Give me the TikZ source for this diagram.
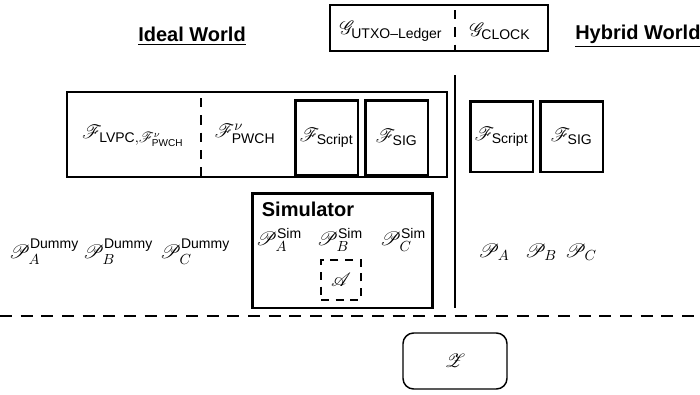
\documentclass[tikz,border=0pt]{standalone}
\usepackage{amsmath}
\usepackage{mathrsfs}
\usepackage{fontspec}
\setsansfont{Liberation Sans}
\usepackage{tikz}
\usetikzlibrary{positioning}

\newcommand{\sF}{\mathscr{F}}
\newcommand{\sP}{\mathscr{P}}

\begin{document}
\begin{tikzpicture}[x=0.75pt, y=-0.75pt,
every node/.style={font=\fontsize{15}{18}\selectfont, inner sep=0pt},
heading/.style={font=\fontsize{15}{18}\selectfont\sffamily\bfseries},
outerbox/.style={draw, line width=2pt},
funcbox/.style={draw, line width=2pt, minimum width=47pt, minimum height=56pt},
divider/.style={dash pattern=on 7pt off 6pt, line width=1.1pt}]
\useasboundingbox (0,0) rectangle (700,394);

% headings and shared functionalities
\node[heading] (ideal) at (192,36) {\underline{Ideal World}};
\node[heading, anchor=west] (hybrid) at (575,36) {\underline{Hybrid World}};
\node[draw, line width=1.6pt, minimum width=163.5pt, minimum height=34.5pt] (gbox) at (439,28) {};
\node (gutxo) at (391,31) {$\mathscr{G}_{\textsf{UTXO--Ledger}}$};
\node (gclock) at (500,31) {$\mathscr{G}_{\textsf{CLOCK}}$};
\draw[divider] (455,10) -- (455,50);

% ideal world
\node[outerbox, minimum width=285pt, minimum height=63.75pt] (idealf) at (257,134.5) {};
\node (flvpc) at (133,136) {$\sF_{\textsf{LVPC},\sF^{\nu}_{\textsf{PWCH}}}$};
\node (fpwch) at (245,134) {$\sF^{\nu}_{\textsf{PWCH}}$};
\draw[divider] (201,98) -- (201,176);
\node[funcbox] (iscript) at (326.5,137.5) {$\sF_{\textsf{Script}}$};
\node[funcbox] (isig) at (396.5,137.5) {$\sF_{\textsf{SIG}}$};
\foreach \p/\x in {A/44, B/118, C/195}{
\node (dummy\p) at (\x,252) {$\sP^{\textsf{Dummy}}_{\p}$};}

% simulator
\node[outerbox, minimum width=135pt, minimum height=86pt] (sim) at (342.5,250.5) {};
\node[heading] (simtitle) at (308,209) {Simulator};
\foreach \p/\x in {A/279, B/340, C/403}{
\node (sim\p) at (\x,240) {$\sP^{\textsf{Sim}}_{\p}$};}
\node[draw, dash pattern=on 6pt off 5pt, line width=1.3pt, minimum width=30pt,
minimum height=30pt] (adv) at (341,280) {$\mathscr{A}$};

% hybrid world
\draw[line width=1.1pt] (455,75) -- (455,308);
\node[funcbox, minimum height=53pt] (hscript) at (501.5,136.5) {$\sF_{\textsf{Script}}$};
\node[funcbox, minimum height=53pt] (hsig) at (571.5,136.5) {$\sF_{\textsf{SIG}}$};
\foreach \p/\x in {A/494, B/541, C/581}{
\node (party\p) at (\x,252) {$\sP_{\p}$};}

% environment
\draw[dash pattern=on 9pt off 6.5pt, line width=1.1pt] (0,316) -- (700,316);
\node[draw, line width=1.1pt, rounded corners=8pt, minimum width=78pt,
minimum height=42pt] (env) at (455,361) {$\mathscr{Z}$};
\end{tikzpicture}
\end{document}
